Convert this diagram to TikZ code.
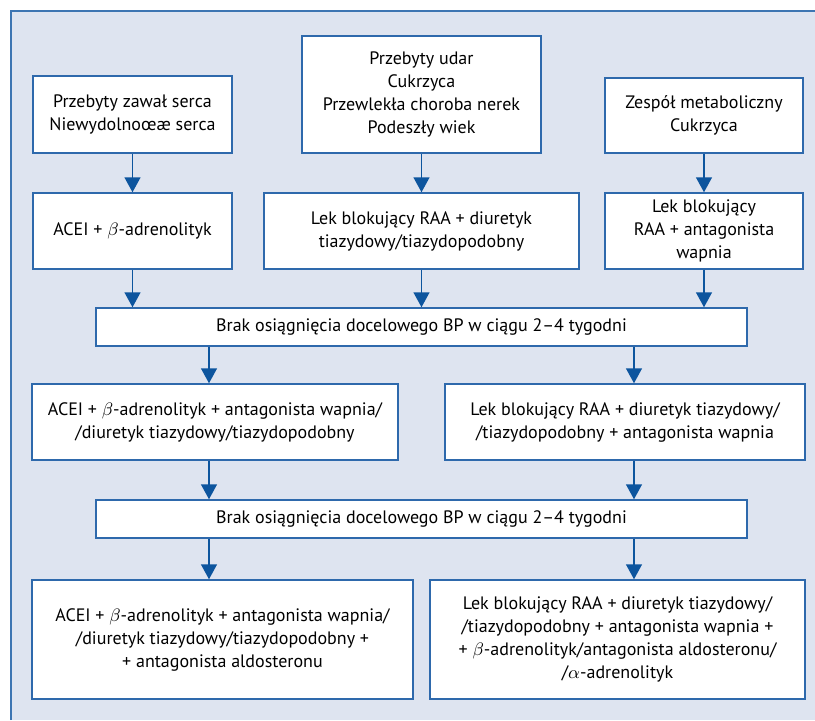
\documentclass[tikz,border=0pt]{standalone}
\usepackage{fontspec}
\setmainfont{PT Sans}
\usetikzlibrary{arrows.meta, positioning}
\definecolor{panelbg}{HTML}{DEE4F0}
\definecolor{panelline}{HTML}{3D75B2}
\definecolor{boxline}{HTML}{2E69AC}
\definecolor{arrowblue}{HTML}{0D559E}

\begin{document}
\begin{tikzpicture}[
    % GLOBAL CFG
    x=0.5pt, y=-0.5pt,
    font=\fontsize{9}{11.5}\selectfont,
    >={Triangle[width=8pt,length=7.5pt]},
    % Styles
    box/.style={% For every step of the scheme
        rectangle,
        draw=boxline,
        line width=0.75pt,
        fill=white,
        align=center,
        inner sep=2pt,
        },
    bar/.style={% For the wide "no target BP" rows
        box,
        minimum width=325.5pt,
        minimum height=19pt,
        },
    ArrowB/.style={% Blue arrows
        ->,
        color=arrowblue,
        line width=0.75pt,
        }
    ]

%Start drawing the thing...
    % Background panel
    \useasboundingbox (0,0) rectangle (815,720);
    \fill [panelbg] (11,11) rectangle (815,720);
    \draw [panelline, line width=1pt] (11,720) -- (11,11) -- (815,11);

    % Draw conditions named hist#
    \node [box, minimum width=99.5pt, minimum height=38.5pt] (hist1) at (132.5,114.5)
        {Przebyty zawał serca\\Niewydolnoœæ serca};
    \node [box, minimum width=119.5pt, minimum height=58.5pt] (hist2) at (421.5,94.5)
        {Przebyty udar\\Cukrzyca\\Przewlekła choroba nerek\\Podeszły wiek};
    \node [box, minimum width=99pt, minimum height=37.5pt] (hist3) at (704,115.5)
        {Zespół metaboliczny\\Cukrzyca};

    % Draw first drugs named drug#
    \node [box, minimum width=99.5pt, minimum height=38pt] (drug1) at (132.5,231)
        {ACEI + $\beta$-adrenolityk};
    \node [box, minimum width=157.5pt, minimum height=38pt] (drug2) at (421.5,231)
        {Lek blokujący RAA + diuretyk\\tiazydowy/tiazydopodobny};
    \node [box, minimum width=99pt, minimum height=38pt] (drug3) at (704,231)
        {Lek blokujący\\RAA + antagonista\\wapnia};

    % Draw the two "no target" rows named fail#
    \node [bar] (fail1) at (421.5,327) {Brak osiągnięcia docelowego BP w ciągu 2--4 tygodni};
    \node [bar] (fail2) at (421.5,519) {Brak osiągnięcia docelowego BP w ciągu 2--4 tygodni};

    % Draw three drug combos named trio#
    \node [box, minimum width=183pt, minimum height=38pt] (trio1) at (215,422)
        {ACEI + $\beta$-adrenolityk + antagonista wapnia/\\/diuretyk tiazydowy/tiazydopodobny};
    \node [box, minimum width=180pt, minimum height=38pt] (trio2) at (625,422)
        {Lek blokujący RAA + diuretyk tiazydowy/\\/tiazydopodobny + antagonista wapnia};

    % Draw last combos named quad#
    \node [box, minimum width=190.5pt, minimum height=59.5pt] (quad1) at (222.5,639.5)
        {ACEI + $\beta$-adrenolityk + antagonista wapnia/\\/diuretyk tiazydowy/tiazydopodobny +\\+ antagonista aldosteronu};
    \node [box, minimum width=187.5pt, minimum height=59.5pt] (quad2) at (617.5,639.5)
        {Lek blokujący RAA + diuretyk tiazydowy/\\/tiazydopodobny + antagonista wapnia +\\+ $\beta$-adrenolityk/antagonista aldosteronu/\\/$\alpha$-adrenolityk};

    % Columns of the lower arrows
    \coordinate (lx) at (209,0);
    \coordinate (rx) at (634,0);

% Start connecting all.
    \draw [ArrowB] (hist1) -- (drug1);
    \draw [ArrowB] (hist2) -- (drug2);
    \draw [ArrowB] (hist3) -- (drug3);

    \draw [ArrowB] (drug1) -- (drug1 |- fail1.north);
    \draw [ArrowB] (drug2) -- (drug2 |- fail1.north);
    \draw [ArrowB] (drug3) -- (drug3 |- fail1.north);

    \draw [ArrowB] (fail1.south -| lx) -- (trio1.north -| lx);
    \draw [ArrowB] (fail1.south -| rx) -- (trio2.north -| rx);
    \draw [ArrowB] (trio1.south -| lx) -- (fail2.north -| lx);
    \draw [ArrowB] (trio2.south -| rx) -- (fail2.north -| rx);
    \draw [ArrowB] (fail2.south -| lx) -- (quad1.north -| lx);
    \draw [ArrowB] (fail2.south -| rx) -- (quad2.north -| rx);

\end{tikzpicture}
\end{document}
